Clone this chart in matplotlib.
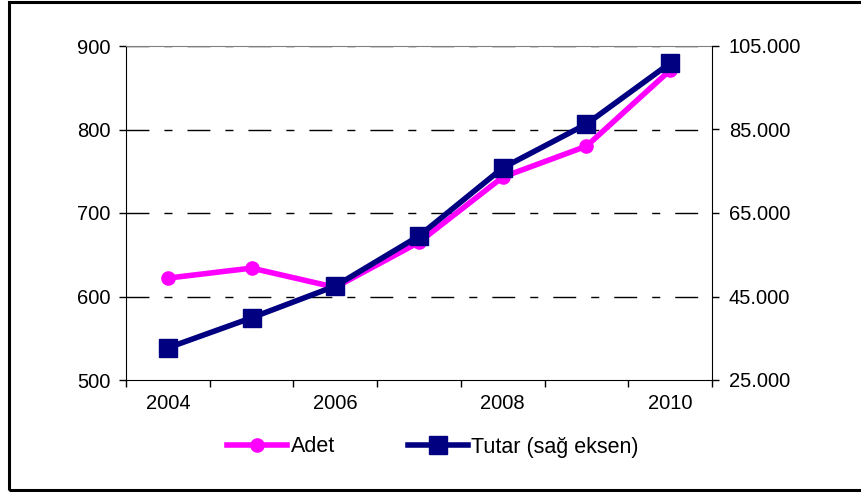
import matplotlib
matplotlib.use("Agg")
import matplotlib.pyplot as plt
from matplotlib.patches import Rectangle
from matplotlib.ticker import FuncFormatter

plt.rcParams['font.family'] = ['Liberation Sans', 'DejaVu Sans']

years = ['2004', '2005', '2006', '2007', '2008', '2009', '2010']
year_labels = ['2004', '', '2006', '', '2008', '', '2010']
adet = [622, 634, 611, 665, 743, 780, 871]
tutar = [32700, 39900, 47500, 59500, 75800, 86300, 100900]
left_ticks = [500, 600, 700, 800, 900]
right_ticks = [25000, 45000, 65000, 85000, 105000]

FS = 14.5
LEG_FS = 15.5
pink = '#FF00FF'
navy = '#000080'

fig = plt.figure(figsize=(8.62, 4.92), dpi=100)
ax = fig.add_axes([126 / 862, 1 - 380 / 492, (712 - 126) / 862, (380 - 46) / 492])
ax2 = ax.twinx()

x = list(range(len(years)))

# gridlines (dash-dot) on the primary axis
for v in left_ticks[1:]:
    ax.axhline(v, color='black', lw=1.0, dashes=(16.5, 10.8, 5.8, 10.8), zorder=1)

ax.plot(x, adet, color=pink, lw=4.0, marker='o', ms=9.5, mec=pink, mfc=pink,
        label='Adet', zorder=3, solid_joinstyle='round')
ax2.plot(x, tutar, color=navy, lw=4.0, marker='s', ms=12.5, mec=navy, mfc=navy,
         label='Tutar (sağ eksen)', zorder=3)

ax.set_xlim(-0.5, 6.5)
ax.set_ylim(500, 900)
ax2.set_ylim(25000, 105000)

ax.set_yticks(left_ticks)
ax2.set_yticks(right_ticks)
ax2.yaxis.set_major_formatter(FuncFormatter(lambda v, p: f"{int(v):,}".replace(',', '.')))

# category boundaries carry the tick marks, centers carry the labels
ax.set_xticks([i - 0.5 for i in range(len(years) + 1)])
ax.set_xticklabels([])
ax.set_xticks(x, minor=True)
ax.set_xticklabels(year_labels, minor=True)
ax.tick_params(axis='x', which='major', direction='out', length=5, width=1, color='black')
ax.tick_params(axis='x', which='minor', length=0, labelsize=FS, pad=10)
ax.tick_params(axis='y', direction='out', length=5, width=1, labelsize=FS, pad=6)
ax2.tick_params(axis='y', direction='out', length=5, width=1, labelsize=FS, pad=7)

ax.spines['left'].set_color('black')
ax.spines['bottom'].set_color('black')
ax.spines['top'].set_color('#808080')
ax.spines['right'].set_visible(False)
for s in ('left', 'top', 'bottom'):
    ax2.spines[s].set_visible(False)
ax2.spines['right'].set_color('black')

h1, l1 = ax.get_legend_handles_labels()
h2, l2 = ax2.get_legend_handles_labels()
fig.legend(h1 + h2, l1 + l2, loc='center', bbox_to_anchor=(433 / 862, 1 - 447 / 492),
           ncol=2, frameon=False, fontsize=LEG_FS, handlelength=2.8, handletextpad=0.15,
           columnspacing=3.4)

# outer frame of the chart
fig.patches.append(Rectangle((9.5 / 862, 1 - 489.5 / 492), 1.0, (489.5 - 1.5) / 492,
                             transform=fig.transFigure, fill=False, lw=2.2,
                             edgecolor='black'))

fig.savefig('out.png', dpi=100)
